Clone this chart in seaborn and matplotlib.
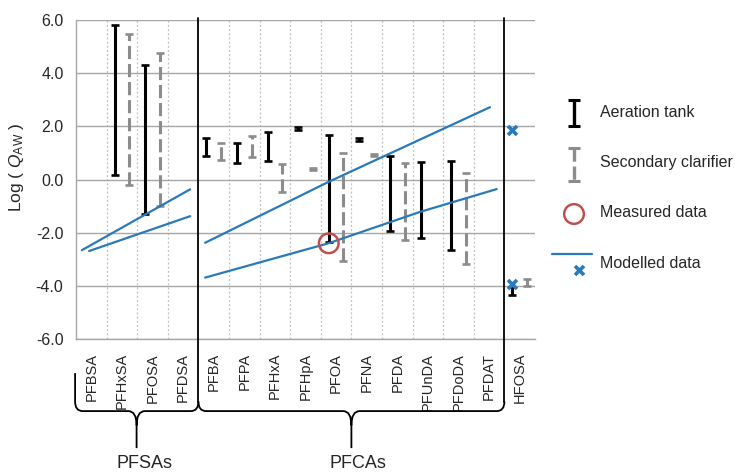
import numpy as np
import pandas as pd
import matplotlib
matplotlib.use("Agg")
import matplotlib.pyplot as plt
from matplotlib.path import Path
from matplotlib.patches import PathPatch
from matplotlib.ticker import FormatStrFormatter
import seaborn as sns

sns.set_style("white")
plt.rcParams.update({
    "font.family": ["Liberation Sans", "DejaVu Sans"],
    "mathtext.fontset": "custom",
    "mathtext.rm": "Liberation Sans",
    "mathtext.it": "Liberation Sans:italic",
    "axes.unicode_minus": False,
    "lines.scale_dashes": False,
})

# ---- data -------------------------------------------------------------
categories = ["PFBSA", "PFHxSA", "PFOSA", "PFDSA",
              "PFBA", "PFPA", "PFHxA", "PFHpA", "PFOA", "PFNA", "PFDA",
              "PFUnDA", "PFDoDA", "PFDAT", "HFOSA"]

nan = np.nan
# log Q_AW ranges, aeration tank
aer_low  = [nan, 0.18, -1.30, nan, 0.90, 0.61, 0.70, 1.88, -2.35, 1.45, -1.93, -2.20, -2.66, nan, -4.35]
aer_high = [nan, 5.83,  4.32, nan, 1.55, 1.39, 1.77, 1.98,  1.68, 1.55,  0.89,  0.64,  0.70, nan, -4.05]
# log Q_AW ranges, secondary clarifier
sec_low  = [nan, -0.21, -1.00, nan, 0.74, 0.86, -0.48, 0.37, -3.08, 0.88, -2.26, nan, -3.16, nan, -4.02]
sec_high = [nan,  5.48,  4.76, nan, 1.39, 1.65,  0.57, 0.45,  0.99, 0.95,  0.61, nan,  0.26, nan, -3.75]

# measured value (PFOA)
measured_cat = "PFOA"
measured_val = -2.40

# modelled values for HFOSA
modelled_cat = "HFOSA"
modelled_vals = [1.87, -3.92]

# modelled curves (x in category units)
pfsa_a_x = [-0.31, 3.23]
pfsa_a_y = [-2.66, -0.37]
pfsa_b_x = [-0.07, 3.23]
pfsa_b_y = [-2.69, -1.38]
pfca_a_x = [3.72, 7.77, 13.03]
pfca_a_y = [-2.38, -0.08, 2.72]
pfca_b_x = [3.72, 7.75, 10.74, 13.25]
pfca_b_y = [-3.69, -2.40, -1.22, -0.36]

yticks = [-6, -4, -2, 0, 2, 4, 6]

# ---- style ------------------------------------------------------------
BLACK = "#000000"
GREY_BAR = "#8c8c8c"
BLUE = "#2a7ab9"
RED = "#c0504d"
GRID = "#a6a6a6"
TEXT = "#262626"
OFF = 0.24

fig = plt.figure(figsize=(7.35, 4.73), dpi=100)
ax = fig.add_axes([76 / 735, 134 / 473, 459 / 735, 319 / 473])

pos = np.arange(len(categories), dtype=float)


def draw_ranges(axis, x, lo, hi, color, dashed=False, lw=2.2, cap=3.0, capthick=1.9):
    lo = np.asarray(lo, float)
    hi = np.asarray(hi, float)
    x = np.asarray(x, float)
    ok = ~np.isnan(lo)
    mid = (lo + hi) / 2
    half = np.abs(hi - lo) / 2
    _, caps, bars = axis.errorbar(x[ok], mid[ok], yerr=half[ok], fmt="none",
                                  ecolor=color, elinewidth=lw, capsize=cap,
                                  capthick=capthick, zorder=4)
    if dashed:
        bars[0].set_linestyle((0, (9.5, 3.5)))
    return caps, bars


draw_ranges(ax, pos - OFF, aer_low, aer_high, BLACK)
draw_ranges(ax, pos + OFF, sec_low, sec_high, GREY_BAR, dashed=True)

# modelled curves
curves = {"pfsa_a": (pfsa_a_x, pfsa_a_y), "pfsa_b": (pfsa_b_x, pfsa_b_y),
          "pfca_a": (pfca_a_x, pfca_a_y), "pfca_b": (pfca_b_x, pfca_b_y)}
model_df = pd.concat([pd.DataFrame({"curve": k, "x": v[0], "y": v[1]})
                      for k, v in curves.items()], ignore_index=True)
sns.lineplot(data=model_df, x="x", y="y", units="curve", estimator=None,
             sort=False, color=BLUE, lw=1.6, ax=ax, legend=False, zorder=5)

# measured and modelled points
mi = categories.index(measured_cat)
ax.scatter([mi - OFF], [measured_val], s=200, facecolors="none",
           edgecolors=RED, linewidths=1.8, zorder=6)
hi_ = categories.index(modelled_cat)
ax.scatter([hi_ - OFF] * len(modelled_vals), modelled_vals, marker="x",
           s=42, color=BLUE, linewidths=2.6, zorder=6)

# ---- axes -------------------------------------------------------------
ax.set_xlim(-0.5, len(categories) - 0.5)
ax.set_ylim(-6, 6)
ax.set_yticks(yticks)
ax.yaxis.set_major_formatter(FormatStrFormatter("%.1f"))
ax.set_xticks(pos)
ax.set_xticklabels(categories, rotation=90)
boundaries = [b + 0.5 for b in range(len(categories) - 1) if b not in (3, 13)]
ax.set_xticks(boundaries, minor=True)

ax.set_axisbelow(True)
ax.yaxis.grid(True, color=GRID, lw=1.0)
ax.xaxis.grid(True, which="minor", color="#c4c4c4", lw=0.9, ls=(0, (1.5, 1.5)))
ax.xaxis.grid(False, which="major")

for s in ("top", "right"):
    ax.spines[s].set_visible(False)
for s in ("left", "bottom"):
    ax.spines[s].set_color(GRID)
    ax.spines[s].set_linewidth(1.0)

ax.tick_params(axis="y", length=3, width=0.8, color=GRID, pad=6,
               labelsize=11.5, labelcolor=TEXT)
ax.tick_params(axis="x", which="major", length=0, pad=10,
               labelsize=10.5, labelcolor=TEXT)
ax.tick_params(axis="x", which="minor", length=4, width=0.8, color="#c4c4c4")

ax.set_xlabel("")
ax.set_ylabel(r"Log ( $Q_{\mathrm{AW}}$ )", fontsize=12.5, color=TEXT)
ax.yaxis.set_label_coords(-0.108, 0.54)

# ---- group separators and braces --------------------------------------
tr = ax.get_xaxis_transform()
y_bar, y_tip, ry, ty = -0.226, -0.342, 0.03, 0.045
rx, tx = 0.25, 0.27

for xs in (3.5, 13.5):
    ax.plot([xs, xs], [1.006, y_bar + ry], color=BLACK, lw=1.3,
            transform=tr, clip_on=False, zorder=7)


def brace(xl, xr, xm, top_l, top_r):
    M, L, C = Path.MOVETO, Path.LINETO, Path.CURVE3
    verts = [(xl, top_l), (xl, y_bar + ry), (xl, y_bar), (xl + rx, y_bar),
             (xm - tx, y_bar), (xm, y_bar), (xm, y_bar - ty), (xm, y_tip),
             (xm, y_bar - ty), (xm, y_bar), (xm + tx, y_bar),
             (xr - rx, y_bar), (xr, y_bar), (xr, y_bar + ry), (xr, top_r)]
    codes = [M, L, C, C, L, C, C, L, M, C, C, L, C, C, L]
    ax.add_patch(PathPatch(Path(verts, codes), fill=False, lw=1.3,
                           edgecolor=BLACK, transform=tr, clip_on=False))


brace(-0.53, 3.5, 1.48, -0.107, y_bar + ry)
brace(3.5, 13.5, 8.5, y_bar + ry, y_bar + ry)

ax.text(1.75, -0.389, "PFSAs", transform=tr, ha="center", va="center",
        fontsize=13, color=TEXT)
ax.text(8.72, -0.389, "PFCAs", transform=tr, ha="center", va="center",
        fontsize=13, color=TEXT)

# ---- legend (drawn in figure pixel space) ------------------------------
lg = fig.add_axes([0, 0, 1, 1])
lg.set_xlim(0, 735)
lg.set_ylim(473, 0)
lg.axis("off")
lg.patch.set_visible(False)

draw_ranges(lg, [574], [100.5], [126.5], BLACK, lw=2.4, cap=4.5, capthick=2.2)
draw_ranges(lg, [574], [148], [181], GREY_BAR, dashed=True, lw=2.4, cap=4.5,
            capthick=2.2)
lg.scatter([574], [214], s=200, facecolors="none", edgecolors=RED,
           linewidths=1.8)
lg.plot([552, 592], [254, 254], color=BLUE, lw=1.6)
lg.scatter([579], [270], marker="x", s=42, color=BLUE, linewidths=2.6)

for ty_, label in [(112, "Aeration tank"), (162, "Secondary clarifier"),
                   (212, "Measured data"), (263, "Modelled data")]:
    lg.text(600, ty_, label, ha="left", va="center", fontsize=11.5, color=TEXT)

fig.savefig("out.png", dpi=100)
